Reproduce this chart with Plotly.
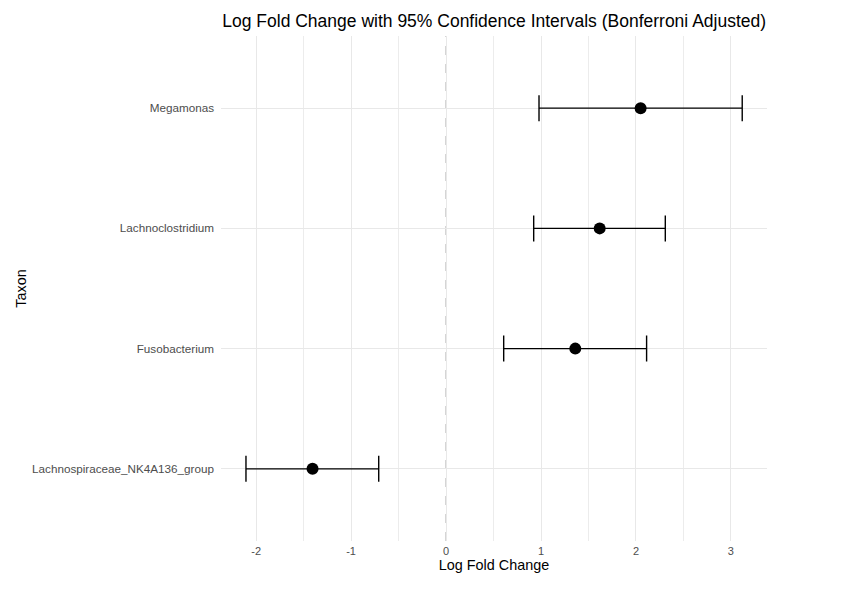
import plotly.graph_objects as go

taxa = ["Lachnospiraceae_NK4A136_group", "Fusobacterium", "Lachnoclostridium", "Megamonas"]
lfc = [-1.406, 1.361, 1.618, 2.049]
ci_low = [-2.107, 0.607, 0.923, 0.979]
ci_high = [-0.709, 2.112, 2.309, 3.119]

err_plus = [h - m for h, m in zip(ci_high, lfc)]
err_minus = [m - l for m, l in zip(lfc, ci_low)]

font_family = "Liberation Sans, Arial, sans-serif"

fig = go.Figure()
fig.add_trace(go.Scatter(
    x=lfc, y=taxa, mode="markers",
    marker=dict(color="black", size=12),
    error_x=dict(type="data", symmetric=False, array=err_plus, arrayminus=err_minus,
                 color="black", thickness=1.4, width=13),
    showlegend=False,
))

fig.add_shape(type="line", x0=0, x1=0, xref="x", y0=0, y1=1, yref="paper",
              line=dict(color="#b3b3b3", width=1.2, dash="dash"), layer="below")

fig.update_layout(
    width=842, height=602,
    margin=dict(l=213, r=83, t=28, b=69),
    paper_bgcolor="white", plot_bgcolor="white",
    font=dict(family=font_family, color="black"),
    title=dict(text="Log Fold Change with 95% Confidence Intervals (Bonferroni Adjusted)",
               x=0.5774, xanchor="center", y=0.978, yanchor="middle",
               font=dict(size=17.5, color="black")),
)
fig.update_xaxes(
    range=[-2.37, 3.38], tickvals=[-2, -1, 0, 1, 2, 3], ticktext=["-2", "-1", "0", "1", "2", "3"],
    showgrid=True, gridcolor="#e8e8e8", gridwidth=1.3, zeroline=False,
    minor=dict(showgrid=True, tickvals=[-1.5, -0.5, 0.5, 1.5, 2.5], gridcolor="#ececec", gridwidth=1.1),
    tickfont=dict(size=11, color="#4d4d4d"), ticks="", ticklabelstandoff=2,
    title=dict(text="Log Fold Change", font=dict(size=14.4, color="black"), standoff=3),
    showline=False,
)
fig.update_yaxes(
    type="category", categoryorder="array", categoryarray=taxa, range=[-0.6, 3.6],
    showgrid=True, gridcolor="#e8e8e8", gridwidth=1.3, zeroline=False,
    tickfont=dict(size=11.7, color="#4d4d4d"), ticks="", ticklabelstandoff=6,
    title=dict(text="Taxon", font=dict(size=14.4, color="black"), standoff=2),
    showline=False,
)

fig.write_html("out.html")
